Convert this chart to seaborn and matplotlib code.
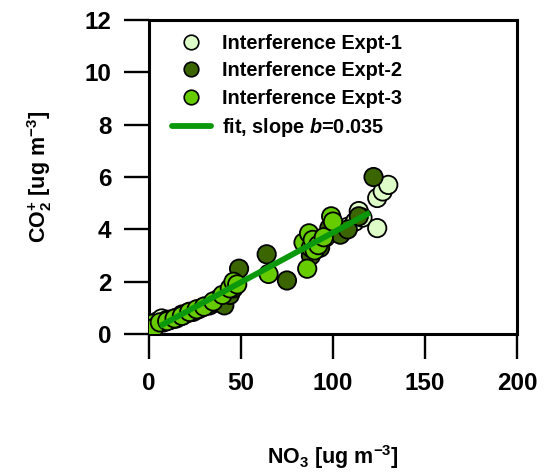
import numpy as np
import pandas as pd
import matplotlib
matplotlib.use("Agg")
import matplotlib.pyplot as plt
import seaborn as sns

# NO3 vs CO2+ for the three interference experiments
exp1_x = [2, 5, 7, 10, 14, 18, 22, 88, 92, 96, 102, 108, 112, 114, 116, 124, 124, 127, 130]
exp1_y = [0.35, 0.5, 0.6, 0.55, 0.6, 0.75, 0.85, 3.2, 3.5, 3.7, 3.9, 4.1, 4.3, 4.7, 4.45, 4.05, 5.2, 5.45, 5.7]

exp2_x = [8, 12, 15, 18, 21, 24, 27, 30, 33, 36, 38, 41, 44, 46, 49, 64, 75, 88, 93, 98, 104, 108, 114, 122]
exp2_y = [0.45, 0.55, 0.6, 0.7, 0.8, 0.85, 0.95, 1.05, 1.1, 1.2, 1.35, 1.1, 1.5, 1.75, 2.5, 3.05, 2.05, 3.0, 3.3, 4.05, 3.8, 4.0, 4.5, 6.0]

exp3_x = [1, 2, 3, 6, 10, 14, 18, 22, 26, 30, 35, 40, 44, 46, 48, 65, 84, 86, 87, 88, 89, 90, 92, 95, 99, 100]
exp3_y = [0.3, 0.4, 0.25, 0.45, 0.5, 0.6, 0.7, 0.85, 0.95, 1.05, 1.25, 1.5, 1.75, 2.0, 1.9, 2.3, 3.5, 2.5, 3.85, 3.3, 3.6, 3.2, 3.4, 3.7, 4.5, 4.3]

labels = ["Interference Expt-1", "Interference Expt-2", "Interference Expt-3"]
colors = ["#ddfcc8", "#3a6500", "#66cc00"]

fit_x = [6, 120]
fit_y = [0.31, 4.64]
fit_label = r"fit, slope $b$=0.035"

xticks = [0, 50, 100, 150, 200]
yticks = [0, 2, 4, 6, 8, 10, 12]

sns.set_style("white")
plt.rcParams["font.family"] = ["Liberation Sans", "DejaVu Sans"]
plt.rcParams["font.weight"] = "bold"
plt.rcParams["text.color"] = "black"
plt.rcParams["axes.labelcolor"] = "black"
plt.rcParams["mathtext.fontset"] = "custom"
plt.rcParams["mathtext.rm"] = "Liberation Sans:bold"
plt.rcParams["mathtext.bf"] = "Liberation Sans:bold"
plt.rcParams["mathtext.it"] = "Liberation Sans:italic:bold"

df = pd.concat([
    pd.DataFrame({"x": exp1_x, "y": exp1_y, "expt": labels[0]}),
    pd.DataFrame({"x": exp2_x, "y": exp2_y, "expt": labels[1]}),
    pd.DataFrame({"x": exp3_x, "y": exp3_y, "expt": labels[2]}),
], ignore_index=True)

fig = plt.figure(figsize=(5.45, 4.74), dpi=100)
ax = fig.add_axes([0.273, 0.295, 0.676, 0.663])

sns.scatterplot(data=df, x="x", y="y", hue="expt", hue_order=labels,
                palette=colors, s=175, edgecolor="black", linewidth=1.3,
                alpha=1, ax=ax, legend=False, zorder=3)
ax.plot(fit_x, fit_y, color="#0b990b", lw=4.2, zorder=4, solid_capstyle="butt")

ax.set_xlim(0, 200)
ax.set_ylim(0, 12)
ax.set_xticks(xticks)
ax.set_yticks(yticks)
ax.tick_params(direction="out", length=18, width=1.7, labelsize=17.5,
               pad=9, colors="black", bottom=True, left=True)
for lab in ax.get_xticklabels() + ax.get_yticklabels():
    lab.set_fontweight("bold")
for sp in ax.spines.values():
    sp.set_linewidth(2.2)
    sp.set_color("black")
ax.set_xlabel(r"NO$_\mathbf{3}$ [ug m$^{\mathbf{-3}}$]", fontsize=15.5,
              fontweight="bold", labelpad=35)
ax.set_ylabel(r"CO$_\mathbf{2}^\mathbf{+}$ [ug m$^{\mathbf{-3}}$]", fontsize=15.5,
              fontweight="bold", labelpad=22)

handles = []
for lab, c in zip(labels, colors):
    handles.append(plt.Line2D([], [], ls="none", marker="o", markersize=10.5,
                              markerfacecolor=c, markeredgecolor="black",
                              markeredgewidth=1.2, label=lab))
handles.append(plt.Line2D([], [], color="#0b990b", lw=4.2, label=fit_label))
leg = ax.legend(handles=handles, loc="upper left", bbox_to_anchor=(0.062, 0.955),
                frameon=False, fontsize=14.3, handlelength=2.0,
                handletextpad=0.55, labelspacing=0.42, borderaxespad=0, borderpad=0)
for t in leg.get_texts():
    t.set_fontweight("bold")
    t.set_color("black")

fig.savefig("out.png", dpi=100)
